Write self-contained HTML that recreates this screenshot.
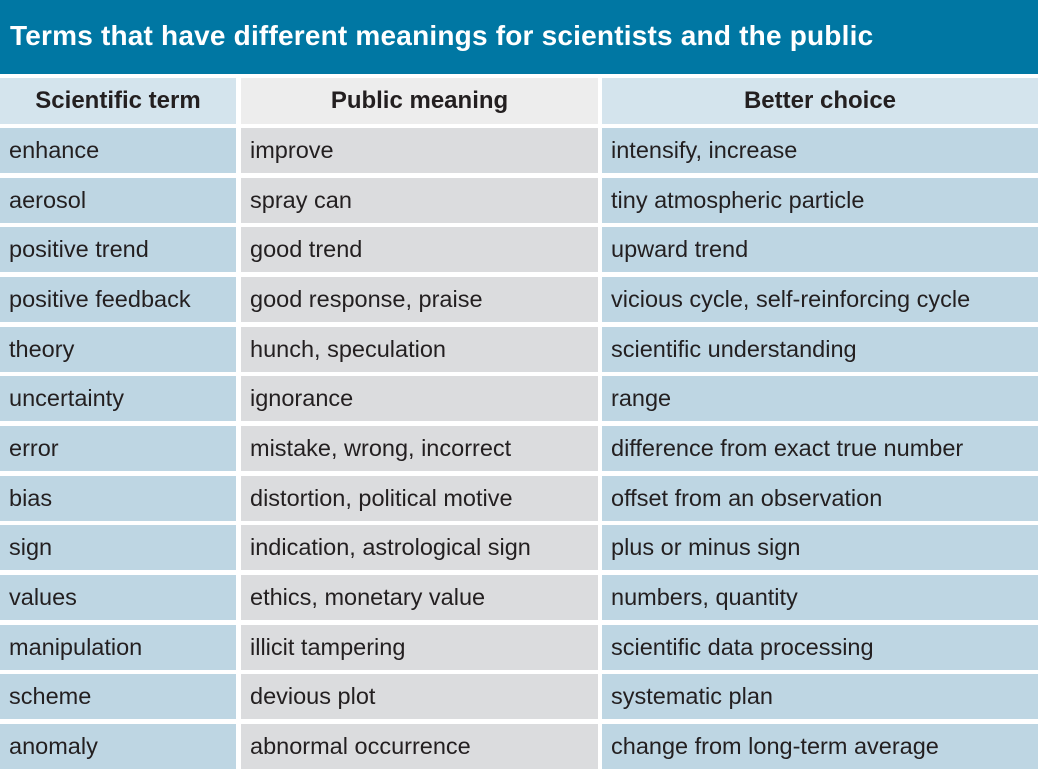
<!DOCTYPE html>
<html><head><meta charset="utf-8"><style>
body{margin:0;width:1038px;height:763px;overflow:hidden;background:#fff;font-family:"Liberation Sans",sans-serif;position:relative}
.title{position:absolute;left:0;top:0;width:1038px;height:74px;background:#0077a3;color:#fff;font-weight:bold;font-size:28px;line-height:72px;padding-left:10px;box-sizing:border-box;letter-spacing:0.2px}
.c{position:absolute;box-sizing:border-box;color:#231f20;font-size:23.5px;padding-left:9px;white-space:nowrap}
.h{font-weight:bold;text-align:center;padding-left:0;font-size:24px}
</style></head><body>
<div class="title">Terms that have different meanings for scientists and the public</div>
<div id="t"></div>
<script>
const terms=["enhance","aerosol","positive trend","positive feedback","theory","uncertainty","error","bias","sign","values","manipulation","scheme","anomaly"];
const publicMeanings=["improve","spray can","good trend","good response, praise","hunch, speculation","ignorance","mistake, wrong, incorrect","distortion, political motive","indication, astrological sign","ethics, monetary value","illicit tampering","devious plot","abnormal occurrence"];
const betterChoices=["intensify, increase","tiny atmospheric particle","upward trend","vicious cycle, self-reinforcing cycle","scientific understanding","range","difference from exact true number","offset from an observation","plus or minus sign","numbers, quantity","scientific data processing","systematic plan","change from long-term average"];
const headers=["Scientific term","Public meaning","Better choice"];
const cols=[[0,236],[241,357],[602,436]];
const t=document.getElementById('t');
function cell(x,y,w,h,txt,bg,cls,name){
  const d=document.createElement('div');
  d.className='c '+cls;
  d.style.cssText=`left:${x}px;top:${y}px;width:${w}px;height:${h}px;line-height:${h}px;background:${bg}`;
  d.textContent=txt;
  
  
  t.appendChild(d);
}
const hb=["#d4e4ed","#ededed","#d4e4ed"],bb=["#bed6e3","#dbdcde","#bed6e3"];
headers.forEach((h,i)=>cell(cols[i][0],78,cols[i][1],46,h,hb[i],'h','column-header'));
const data=[terms,publicMeanings,betterChoices];
const names=['scientific-term-cell','public-meaning-cell','better-choice-cell'];
for(let r=0;r<terms.length;r++){
  const y=128+r*49.67;
  for(let c=0;c<3;c++)cell(cols[c][0],y.toFixed(1),cols[c][1],45,data[c][r],bb[c],'',names[c]);
}
</script>
</body></html>
